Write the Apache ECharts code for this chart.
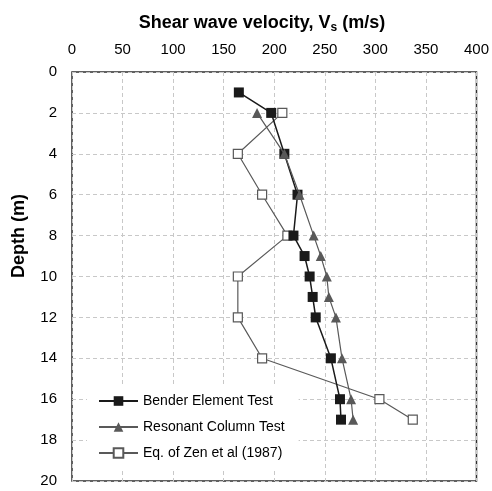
<!DOCTYPE html>
<html>
<head>
<meta charset="utf-8">
<script src="https://cdn.jsdelivr.net/npm/echarts@6/dist/echarts.min.js"></script>
<style>html,body{margin:0;padding:0;background:#fff}#c{width:492px;height:491px}</style>
</head>
<body>
<div id="c"></div>
<script>
var xTicks = [0, 50, 100, 150, 200, 250, 300, 350, 400];
var yTicks = [0, 2, 4, 6, 8, 10, 12, 14, 16, 18, 20];

var benderDepth = [1, 2, 4, 6, 8, 9, 10, 11, 12, 14, 16, 17];
var benderVs    = [165, 197, 210, 223, 219, 230, 235, 238, 241, 256, 265, 266];

var resonantDepth = [2, 4, 6, 8, 9, 10, 11, 12, 14, 16, 17];
var resonantVs    = [183, 210, 225, 239, 246, 252, 254, 261, 267, 276, 278];

var zenDepth = [2, 4, 6, 8, 10, 12, 14, 16, 17];
var zenVs    = [208, 164, 188, 213, 164, 164, 188, 304, 337];

function pairs(vs, d) { return vs.map(function (v, i) { return [v, d[i]]; }); }

var font = '"Liberation Sans", Arial, sans-serif';
var chart = echarts.init(document.getElementById('c'), null, { renderer: 'canvas' });
chart.setOption({
  animation: false,
  backgroundColor: '#ffffff',
  textStyle: { fontFamily: font },
  title: {
    text: '{a|Shear wave velocity, V}{b|s}{a| (m/s)}',
    left: 257, top: 8, textAlign: 'center',
    textStyle: {
      rich: {
        a: { fontFamily: font, fontWeight: 'bold', fontSize: 18, color: '#000' },
        b: { fontFamily: font, fontWeight: 'bold', fontSize: 12, color: '#000', padding: [9, 0, 0, 0] }
      }
    }
  },
  graphic: [{
    type: 'text', x: 19, y: 236, rotation: Math.PI / 2,
    style: { text: 'Depth (m)', font: 'bold 18px ' + font, fill: '#000', textAlign: 'center', textVerticalAlign: 'middle' }
  }],
  grid: { left: 72, top: 72, width: 406, height: 409, show: true, borderColor: '#2e2e2e', borderWidth: 1.5, backgroundColor: 'transparent' },
  xAxis: {
    type: 'value', position: 'top', min: xTicks[0], max: xTicks[xTicks.length - 1], interval: 50,
    axisLine: { show: false }, axisTick: { show: false },
    axisLabel: { fontSize: 15, color: '#000', margin: 15, fontFamily: font },
    splitLine: { show: true, lineStyle: { color: '#c8c8c8', type: [4, 3], width: 1 } }
  },
  yAxis: {
    type: 'value', inverse: true, min: yTicks[0], max: yTicks[yTicks.length - 1], interval: 2,
    axisLine: { show: false }, axisTick: { show: false },
    axisLabel: { fontSize: 15, color: '#000', margin: 15, fontFamily: font },
    splitLine: { show: true, lineStyle: { color: '#c8c8c8', type: [4, 3], width: 1 } }
  },
  legend: {
    orient: 'vertical', left: 87, top: 386,
    padding: [8, 14, 8, 11], itemGap: 12, itemWidth: 39, itemHeight: 12,
    backgroundColor: '#ffffff',
    data: ['Bender Element Test', 'Resonant Column Test', 'Eq. of Zen et al (1987)'],
    textStyle: { fontSize: 14, color: '#000', fontFamily: font }
  },
  series: [
    {
      name: 'Eq. of Zen et al (1987)', type: 'line', z: 2,
      data: pairs(zenVs, zenDepth),
      symbol: 'rect', symbolSize: 9,
      lineStyle: { color: '#595959', width: 1.2 },
      itemStyle: { color: '#ffffff', borderColor: '#595959', borderWidth: 1.2 }
    },
    {
      name: 'Bender Element Test', type: 'line', z: 3,
      data: pairs(benderVs, benderDepth),
      symbol: 'rect', symbolSize: 10,
      lineStyle: { color: '#1a1a1a', width: 1.5 },
      itemStyle: { color: '#1a1a1a', borderColor: '#1a1a1a', borderWidth: 0 }
    },
    {
      name: 'Resonant Column Test', type: 'line', z: 4,
      data: pairs(resonantVs, resonantDepth),
      symbol: 'triangle', symbolSize: 10,
      lineStyle: { color: '#595959', width: 1.2 },
      itemStyle: { color: '#595959', borderColor: '#595959', borderWidth: 0 }
    }
  ]
});
</script>
</body>
</html>
